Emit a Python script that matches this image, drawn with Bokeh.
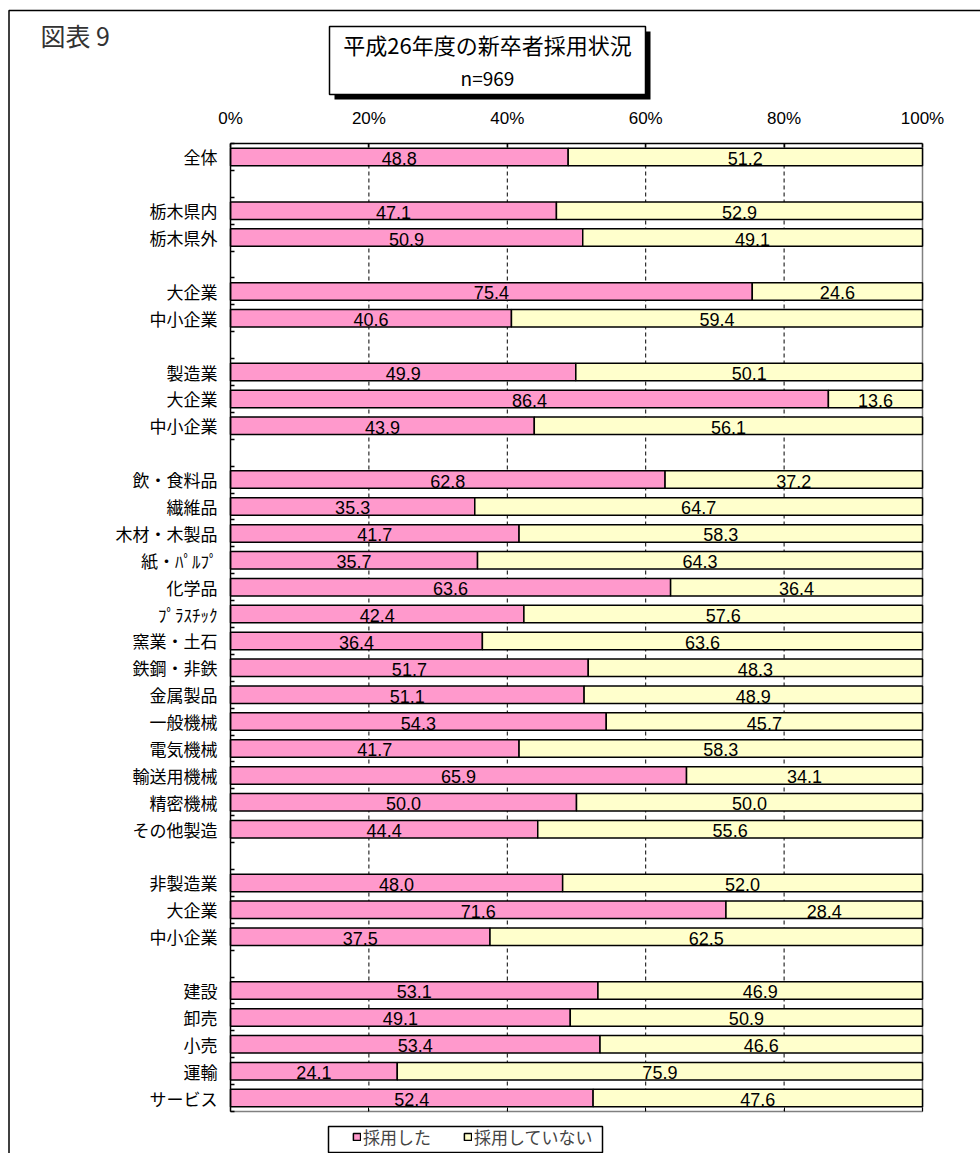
from bokeh.plotting import figure
from bokeh.models import (ColumnDataSource, Range1d, FixedTicker, LinearAxis,
                          BoxAnnotation, Label, Legend, LegendItem, PrintfTickFormatter)
from bokeh.core.properties import value
from bokeh.embed import file_html
from bokeh.resources import INLINE

# ---------------- data ----------------
categories = ["全体", "", "栃木県内", "栃木県外", "", "大企業", "中小企業", "",
              "製造業", "大企業", "中小企業", "",
              "飲・食料品", "繊維品", "木材・木製品", "紙・ﾊﾟﾙﾌﾟ", "化学品", "ﾌﾟﾗｽﾁｯｸ",
              "窯業・土石", "鉄鋼・非鉄", "金属製品", "一般機械", "電気機械", "輸送用機械",
              "精密機械", "その他製造", "",
              "非製造業", "大企業", "中小企業", "",
              "建設", "卸売", "小売", "運輸", "サービス"]
hired = [48.8, None, 47.1, 50.9, None, 75.4, 40.6, None,
         49.9, 86.4, 43.9, None,
         62.8, 35.3, 41.7, 35.7, 63.6, 42.4,
         36.4, 51.7, 51.1, 54.3, 41.7, 65.9,
         50.0, 44.4, None,
         48.0, 71.6, 37.5, None,
         53.1, 49.1, 53.4, 24.1, 52.4]
not_hired = [51.2, None, 52.9, 49.1, None, 24.6, 59.4, None,
             50.1, 13.6, 56.1, None,
             37.2, 64.7, 58.3, 64.3, 36.4, 57.6,
             63.6, 48.3, 48.9, 45.7, 58.3, 34.1,
             50.0, 55.6, None,
             52.0, 28.4, 62.5, None,
             46.9, 50.9, 46.6, 75.9, 47.6]
x_ticks = [0, 20, 40, 60, 80, 100]
series_names = ["採用した", "採用していない"]
title_text = "平成26年度の新卒者採用状況"
n_text = "n=969"
fig_label = "図表 9"

PINK = "#FF99CC"
YELLOW = "#FFFFCC"
JP = "Noto Sans CJK JP"
NUM = "Liberation Sans"

# ---------------- page geometry (pixels) ----------------
W, H = 980, 1153
PX_L, PX_R, PY_T, PY_B = 230, 922, 143, 1111
nrows = len(categories)
XS = (PX_R - PX_L) / 100.0
YS = (PY_B - PY_T) / nrows


def X(px):
    return (px - PX_L) / XS


def Y(py):
    return 0.5 + (py - PY_T) / YS


ys, hs, hn, hx, nx, ht, nt, ty = [], [], [], [], [], [], [], []
for i, (h, n) in enumerate(zip(hired, not_hired)):
    if h is None:
        continue
    y = i + 1
    ys.append(y)
    hs.append(h)
    hn.append(h + n)
    hx.append(h / 2)
    nx.append(h + n / 2)
    ht.append(f"{h:.1f}")
    nt.append(f"{n:.1f}")
    ty.append(y + 0.055)

src = ColumnDataSource(dict(y=ys, h=hs, hn=hn, hx=hx, nx=nx, ht=ht, nt=nt, ty=ty))

p = figure(width=W, height=H,
           x_range=Range1d(X(0), X(W)), y_range=Range1d(Y(H), Y(0)),
           x_axis_type=None, y_axis_type=None,
           output_backend="svg", toolbar_location=None, min_border=0)
p.background_fill_color = "white"
p.border_fill_color = "white"
p.outline_line_color = None
p.grid.visible = False

# ---------------- axes ----------------
top = LinearAxis(fixed_location=0.5, bounds=(0, 100),
                 ticker=FixedTicker(ticks=x_ticks, minor_ticks=[]),
                 formatter=PrintfTickFormatter(format="%d%%"))
top.axis_line_color = "black"
top.axis_line_width = 1.5
top.major_tick_in = 4
top.major_tick_out = 0
top.major_tick_line_color = "black"
top.major_tick_line_width = 1.5
top.minor_tick_line_color = None
top.major_label_standoff = 16
top.major_label_text_font = NUM
top.major_label_text_font_size = "17px"
top.major_label_text_color = "black"
p.add_layout(top, "above")

bot = LinearAxis(fixed_location=nrows + 0.5, bounds=(0, 100),
                 ticker=FixedTicker(ticks=x_ticks, minor_ticks=[]),
                 major_label_overrides={t: "" for t in x_ticks})
bot.axis_line_color = "#808080"
bot.axis_line_width = 1.5
bot.major_tick_in = 4
bot.major_tick_out = 0
bot.major_tick_line_color = "black"
bot.minor_tick_line_color = None
bot.major_label_text_alpha = 0
p.add_layout(bot, "below")

right = LinearAxis(fixed_location=100, bounds=(0.5, nrows + 0.5),
                   ticker=FixedTicker(ticks=[], minor_ticks=[]), level="underlay")
right.axis_line_color = "#808080"
right.axis_line_width = 1.5
right.major_tick_line_color = None
right.minor_tick_line_color = None
right.major_label_text_alpha = 0
p.add_layout(right, "right")

left = LinearAxis(fixed_location=0, bounds=(0.5, nrows + 0.5),
                  ticker=FixedTicker(ticks=list(range(1, nrows + 1)),
                                     minor_ticks=[i + 0.5 for i in range(nrows + 1)]))
left.major_label_overrides = {i + 1: c for i, c in enumerate(categories)}
left.axis_line_color = "black"
left.axis_line_width = 1.5
left.major_tick_in = 0
left.major_tick_out = 0
left.minor_tick_in = 4
left.minor_tick_out = 0
left.minor_tick_line_color = "black"
left.minor_tick_line_width = 1.5
left.major_label_standoff = 13
left.major_label_text_font = JP
left.major_label_text_font_size = "17px"
left.major_label_text_color = "black"
p.add_layout(left, "left")

# dashed vertical grid lines
grid_x = x_ticks[1:-1]
p.segment(x0=grid_x, y0=[0.5] * len(grid_x), x1=grid_x, y1=[nrows + 0.5] * len(grid_x),
          line_color="black", line_width=1, line_dash="4 3")

# ---------------- bars ----------------
r1 = p.hbar(y="y", left=0, right="h", height=0.65, source=src,
            fill_color=PINK, line_color="black", line_width=1.5)
r2 = p.hbar(y="y", left="h", right="hn", height=0.65, source=src,
            fill_color=YELLOW, line_color="black", line_width=1.5)

for xcol, tcol in (("hx", "ht"), ("nx", "nt")):
    p.text(x=xcol, y="ty", text=tcol, source=src,
           text_align="center", text_baseline="middle",
           text_font=value(NUM), text_font_size="18px", text_color="black")

# ---------------- decorations ----------------
# outer frame (left and top edges visible)
p.add_layout(BoxAnnotation(left=X(8.5), right=X(1200), top=Y(10), bottom=Y(1400),
                           fill_alpha=0, line_color="black", line_alpha=1,
                           line_width=1.5))

# title box with shadow
p.add_layout(BoxAnnotation(left=X(334), right=X(650), top=Y(31), bottom=Y(99),
                           fill_color="black", fill_alpha=1, line_alpha=0))
p.add_layout(BoxAnnotation(left=X(329), right=X(645), top=Y(26), bottom=Y(94),
                           fill_color="white", fill_alpha=1,
                           line_color="black", line_alpha=1, line_width=1.5))
p.add_layout(Label(x=X(487), y=Y(43), text=title_text,
                   text_align="center", text_baseline="middle",
                   text_font=JP, text_font_size="22px", text_color="black"))
p.add_layout(Label(x=X(487), y=Y(77), text=n_text,
                   text_align="center", text_baseline="middle",
                   text_font=JP, text_font_size="19px", text_color="black"))
p.add_layout(Label(x=X(40), y=Y(34), text=fig_label,
                   text_align="left", text_baseline="middle",
                   text_font=JP, text_font_size="25px", text_color="#333333"))

# legend box
p.add_layout(BoxAnnotation(left=X(328), right=X(602), top=Y(1126), bottom=Y(1152),
                           fill_color="white", fill_alpha=1,
                           line_color="black", line_alpha=1, line_width=1.5))

legend = Legend(items=[LegendItem(label=series_names[0], renderers=[r1]),
                       LegendItem(label=series_names[1], renderers=[r2])],
                orientation="horizontal", location=(348, 0),
                margin=0, padding=4, spacing=32,
                glyph_width=9, glyph_height=9, label_standoff=2,
                label_text_font=JP, label_text_font_size="17px",
                border_line_alpha=0, background_fill_alpha=0)
p.add_layout(legend)

open("out.html", "w").write(file_html(p, INLINE))
